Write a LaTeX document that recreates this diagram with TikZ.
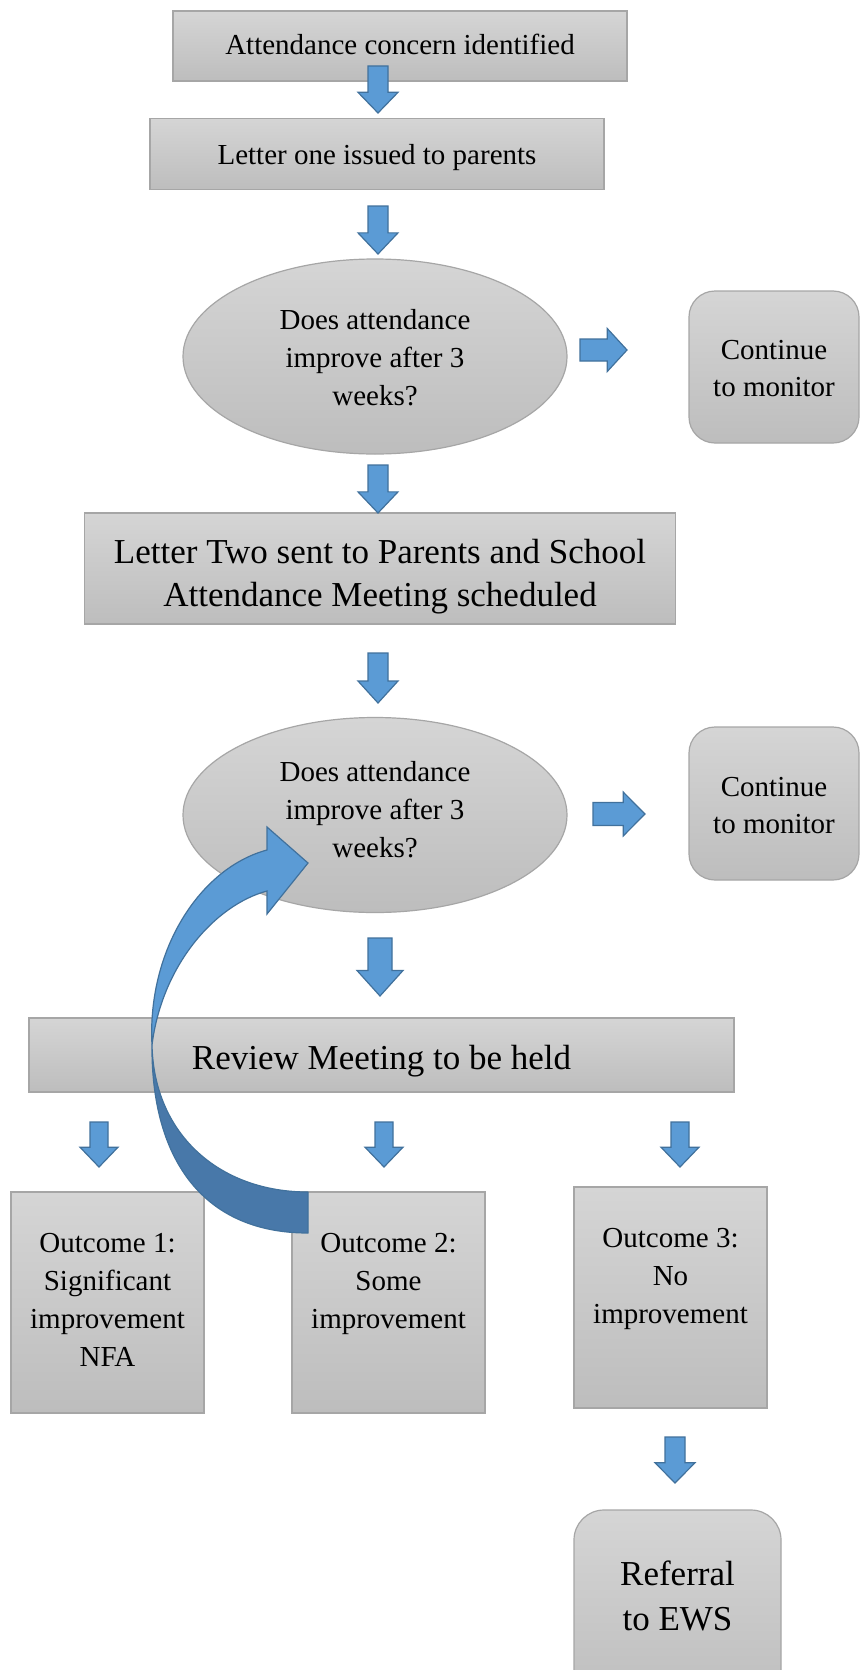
\documentclass[tikz,border=0pt]{standalone}
\usepackage{fontspec}
\setmainfont{Liberation Serif}
\usetikzlibrary{shapes.geometric,calc}
\definecolor{gtop}{HTML}{D5D5D5}
\definecolor{gbot}{HTML}{BDBDBD}
\definecolor{gline}{HTML}{A6A6A6}
\definecolor{afill}{HTML}{5B9BD5}
\definecolor{aline}{HTML}{41719C}
\definecolor{adark}{HTML}{4878A9}
\newcommand{\fsmall}{\fontsize{29}{38}\selectfont}
\newcommand{\fcont}{\fontsize{29}{37}\selectfont}
\newcommand{\flarge}{\fontsize{35}{43}\selectfont}
\newcommand{\fref}{\fontsize{35}{45}\selectfont}
\newcommand{\DownBlock}[5]{% cx, ytop, length, head width, shaft width
  \pgfmathsetmacro\dbxa{#1-#5/2}\pgfmathsetmacro\dbxb{#1+#5/2}%
  \pgfmathsetmacro\dbxc{#1-#4/2}\pgfmathsetmacro\dbxd{#1+#4/2}%
  \pgfmathsetmacro\dbyb{#2+#3*0.56}\pgfmathsetmacro\dbyt{#2+#3}%
  \draw[blockarrow] (\dbxa,#2) -- (\dbxb,#2) -- (\dbxb,\dbyb) -- (\dbxd,\dbyb) -- (#1,\dbyt) -- (\dbxc,\dbyb) -- (\dbxa,\dbyb) -- cycle;}
\newcommand{\RightBlock}[5]{% xleft, cy, length, head height, shaft height
  \pgfmathsetmacro\rbya{#2-#5/2}\pgfmathsetmacro\rbyb{#2+#5/2}%
  \pgfmathsetmacro\rbyc{#2-#4/2}\pgfmathsetmacro\rbyd{#2+#4/2}%
  \pgfmathsetmacro\rbxb{#1+#3*0.58}\pgfmathsetmacro\rbxt{#1+#3}%
  \draw[blockarrow] (#1,\rbya) -- (\rbxb,\rbya) -- (\rbxb,\rbyc) -- (\rbxt,#2) -- (\rbxb,\rbyd) -- (\rbxb,\rbyb) -- (#1,\rbyb) -- cycle;}
\tikzset{
  box/.style={rectangle, draw=gline, line width=1.2pt, top color=gtop, bottom color=gbot, inner sep=0pt},
  rbox/.style={box, rounded corners=26pt},
  ell/.style={ellipse, draw=gline, line width=1.2pt, top color=gtop, bottom color=gbot, inner sep=0pt},
  txt/.style={inner sep=0pt, align=center, font=\fsmall},
  bigtxt/.style={inner sep=0pt, align=center, font=\flarge},
  blockarrow/.style={fill=afill, draw=aline, line width=1.2pt, line join=miter},
}
\begin{document}
\begin{tikzpicture}[x=1pt,y=-1pt]
\useasboundingbox (0,0) rectangle (861,1670);
\fill[white] (0,0) rectangle (861,1670);

% shapes
\node[box, minimum width=454pt, minimum height=70pt] (b1) at (400,46) {};
\node[box, minimum width=454pt, minimum height=71pt] (b2) at (377,154) {};
\node[ell, minimum width=384pt, minimum height=195pt] (e1) at (375,356.5) {};
\node[rbox, minimum width=170pt, minimum height=152pt] (c1) at (774,367) {};
\node[box, minimum width=591pt, minimum height=111pt] (b3) at (380,568.5) {};
\node[ell, minimum width=384pt, minimum height=195pt] (e2) at (375,815) {};
\node[rbox, minimum width=170pt, minimum height=153pt] (c2) at (774,803.5) {};
\node[box, minimum width=705pt, minimum height=74pt] (rv) at (381.5,1055) {};
\node[box, minimum width=193pt, minimum height=221pt] (o1) at (107.5,1302.5) {};
\node[box, minimum width=193pt, minimum height=221pt] (o2) at (388.5,1302.5) {};
\node[box, minimum width=193pt, minimum height=221pt] (o3) at (670.5,1297.5) {};
\node[rbox, rounded corners=30pt, minimum width=207pt, minimum height=200pt] (rf) at (677.5,1610) {};

% texts
\node[txt] (b1t) at ($(b1)+(0,-2)$) {Attendance concern identified};
\node[txt] (b2t) at ($(b2)+(0,4)$) {Letter one issued to parents};
\node[txt] (e1t) at ($(e1)+(0,1)$) {Does attendance\\improve after 3\\weeks?};
\node[txt, font=\fcont] (c1t) at ($(c1)+(0,2)$) {Continue\\to monitor};
\node[bigtxt] (b3t) at ($(b3)+(0,8)$) {Letter Two sent to Parents and School\\Attendance Meeting scheduled};
\node[txt] (e2t) at ($(e2)+(0,-5)$) {Does attendance\\improve after 3\\weeks?};
\node[txt, font=\fcont] (c2t) at ($(c2)+(0,2)$) {Continue\\to monitor};
\node[bigtxt] (rvt) at ($(rv)+(0,6)$) {Review Meeting to be held};
\node[txt, anchor=north] (o1t) at ($(o1.north)+(0,42)$) {Outcome 1:\\Significant\\improvement\\NFA};
\node[txt, anchor=north] (o2t) at ($(o2.north)+(0,42)$) {Outcome 2:\\Some\\improvement};
\node[txt, anchor=north] (o3t) at ($(o3.north)+(0,42)$) {Outcome 3:\\No\\improvement};
\node[txt, anchor=north, font=\fref] (rft) at (677.5,1561) {Referral\\to EWS};

% block arrows
\DownBlock{378}{66}{47}{40}{20}
\DownBlock{378}{206}{48}{40}{20}
\DownBlock{378}{465}{48}{40}{20}
\DownBlock{378}{653}{50}{40}{20}
\DownBlock{380}{938}{58}{46}{24}
\DownBlock{99}{1122}{45}{38}{18}
\DownBlock{384}{1122}{45}{38}{18}
\DownBlock{680}{1122}{45}{38}{18}
\DownBlock{675}{1437}{46}{40}{20}
\RightBlock{580}{350}{47}{43}{22}
\RightBlock{593}{814}{52}{44}{23}

% curved arrow from Outcome 2 back to the second question
\coordinate (tw) at (152,1045);
\filldraw[fill=adark, draw=aline, line width=1.2pt, line join=round]
  (tw) .. controls (151,1155) and (200,1233) .. (308,1233)
  -- (308,1192) .. controls (220,1192) and (154,1135) .. (tw) -- cycle;
\filldraw[fill=afill, draw=aline, line width=1.2pt, line join=miter]
  (tw) .. controls (147,950) and (200,868) .. (267,850)
  -- (267,827) -- (308,863) -- (267,914) -- (267,891)
  .. controls (215,905) and (162,965) .. (tw) -- cycle;
\end{tikzpicture}
\end{document}
